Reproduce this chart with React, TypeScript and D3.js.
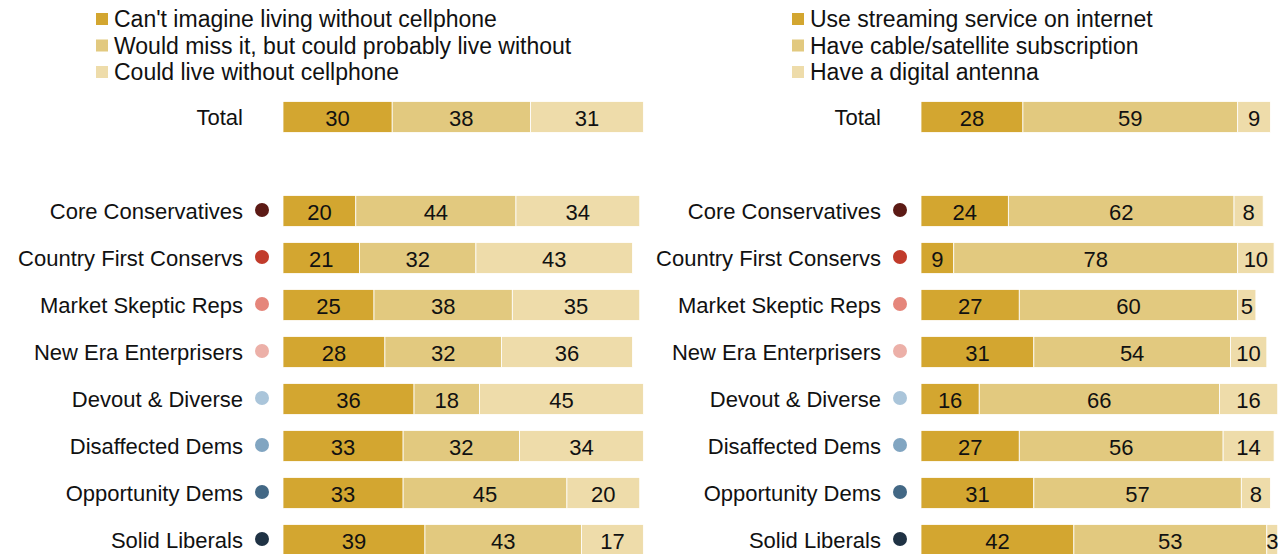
import React from "react";
import * as d3 from "d3";

const groups = [
  "Core Conservatives",
  "Country First Conservs",
  "Market Skeptic Reps",
  "New Era Enterprisers",
  "Devout & Diverse",
  "Disaffected Dems",
  "Opportunity Dems",
  "Solid Liberals",
];
const dotColors = ["#5C1A15", "#C13B2B", "#E5867B", "#ECB0A8", "#AAC5DA", "#81A5C1", "#436885", "#1F3244"];

const leftLegend = [
  "Can't imagine living without cellphone",
  "Would miss it, but could probably live without",
  "Could live without cellphone",
];
const rightLegend = [
  "Use streaming service on internet",
  "Have cable/satellite subscription",
  "Have a digital antenna",
];
const segColors = ["#D3A630", "#E2C97F", "#EEDCAA"];

const leftTotal = [30, 38, 31];
const leftValues = [
  [20, 44, 34],
  [21, 32, 43],
  [25, 38, 35],
  [28, 32, 36],
  [36, 18, 45],
  [33, 32, 34],
  [33, 45, 20],
  [39, 43, 17],
];
const rightTotal = [28, 59, 9];
const rightValues = [
  [24, 62, 8],
  [9, 78, 10],
  [27, 60, 5],
  [31, 54, 10],
  [16, 66, 16],
  [27, 56, 14],
  [31, 57, 8],
  [42, 53, 3],
];

const FONT = "'Liberation Sans', Arial, sans-serif";
const W = 1281;
const H = 554;

const yGroups = d3.scalePoint<string>().domain(groups).range([211, 540]);
const yOf = (name: string) => (name === "Total" ? 117 : (yGroups(name) as number));

const BAR_H = 31;

function Panel({
  x0,
  legend,
  legendX,
  total,
  values,
}: {
  x0: number;
  legend: string[];
  legendX: number;
  total: number[];
  values: number[][];
}) {
  const x = d3.scaleLinear().domain([0, 100]).range([x0, x0 + 364]);
  const rows = [{ name: "Total", vals: total, dot: null as string | null }].concat(
    groups.map((g, i) => ({ name: g, vals: values[i], dot: dotColors[i] }))
  );
  return (
    <g>
      {legend.map((t, i) => (
        <g key={t}>
          <rect x={legendX} y={13 + i * 26.5} width={12} height={12} fill={segColors[i]} />
          <text
            x={legendX + 18}
            y={19 + i * 26.5}
            dy="0.35em"
            fontSize={23}
            fontFamily={FONT}
            fill="#111"
          >
            {t}
          </text>
        </g>
      ))}
      {rows.map((r) => {
        const cy = yOf(r.name);
        const stack = d3.cumsum(r.vals);
        return (
          <g key={r.name}>
            <text
              x={x0 - 40}
              y={cy}
              dy="0.35em"
              textAnchor="end"
              fontSize={22}
              fontFamily={FONT}
              fill="#111"
            >
              {r.name}
            </text>
            {r.dot && <circle cx={x0 - 21} cy={cy - 1} r={7} fill={r.dot} />}
            {r.vals.map((v, j) => {
              const start = j === 0 ? 0 : stack[j - 1];
              const xa = x(start);
              const xb = x(start + v);
              return (
                <g key={j}>
                  <rect
                    x={xa}
                    y={cy - BAR_H / 2}
                    width={xb - xa}
                    height={BAR_H}
                    fill={segColors[j]}
                    stroke="#fff"
                    strokeWidth={0.8}
                  />
                  <text
                    x={(xa + xb) / 2}
                    y={cy + 1}
                    dy="0.35em"
                    textAnchor="middle"
                    fontSize={22}
                    fontFamily={FONT}
                    fill="#111"
                  >
                    {v}
                  </text>
                </g>
              );
            })}
          </g>
        );
      })}
    </g>
  );
}

export default function App() {
  return (
    <svg
      width={W}
      height={H}
      style={{ position: "absolute", left: 0, top: 0, display: "block", background: "#fff" }}
    >
      <Panel x0={283} legend={leftLegend} legendX={96} total={leftTotal} values={leftValues} />
      <Panel x0={921} legend={rightLegend} legendX={792} total={rightTotal} values={rightValues} />
    </svg>
  );
}
